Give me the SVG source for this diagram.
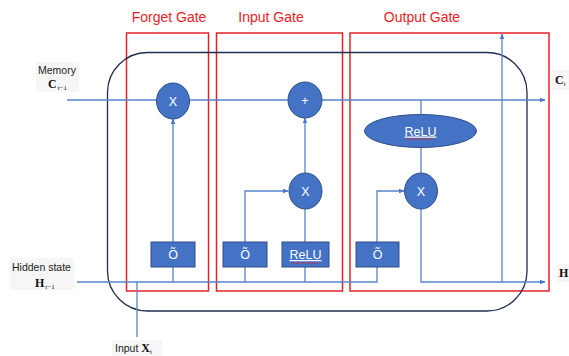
<svg xmlns="http://www.w3.org/2000/svg" width="569" height="356" viewBox="0 0 569 356">
<defs>
<marker id="arr" viewBox="0 0 10 10" refX="9" refY="5" markerWidth="6" markerHeight="6" orient="auto" markerUnits="userSpaceOnUse">
<path d="M0,1 L10,5 L0,9 z" fill="#4a78c6"/>
</marker>
<style>
.gate{fill:none;stroke:#e8202a;stroke-width:1.5}
.title{font-family:"Liberation Sans",Arial,sans-serif;font-size:14px;fill:#ee1c24;text-anchor:middle}
.cell{fill:none;stroke:#1f2d50;stroke-width:1.3}
.conn{fill:none;stroke:#5585c9;stroke-width:1.3}
.node{fill:#4472c4;stroke:#2f4f8a;stroke-width:1}
.nt{font-family:"Liberation Sans",Arial,sans-serif;font-size:12.5px;fill:#ffffff;text-anchor:middle}
.lab{font-family:"Liberation Sans",Arial,sans-serif;font-size:10.5px;fill:#222}
.math{font-family:"Liberation Serif","Times New Roman",serif;font-weight:bold;font-size:12px;fill:#111}
.sub{font-size:7px;font-weight:normal}
.bg{fill:#f6f6f6}
.squig{fill:none;stroke:#e02020;stroke-width:0.7}
</style>
</defs>

<g id="gate-boxes">
<rect class="gate" x="126.5" y="33" width="82" height="258"/>
<rect class="gate" x="216.5" y="33" width="126" height="258"/>
<rect class="gate" x="350" y="33" width="199" height="258"/>
<text class="title" x="169" y="22">Forget Gate</text>
<text class="title" x="271" y="22">Input Gate</text>
<text class="title" x="422" y="22">Output Gate</text>
</g>

<g id="cell">
<rect class="cell" x="107.5" y="52.5" width="419.5" height="258.5" rx="40" ry="40"/>
</g>

<g id="labels">
<rect class="bg" x="36" y="62" width="43" height="30"/>
<text class="lab" x="38" y="74">Memory</text>
<text class="math" x="48" y="88">C<tspan class="sub" dx="1" dy="2">t−1</tspan></text>
<rect class="bg" x="10" y="258" width="64" height="32"/>
<text class="lab" x="12" y="271">Hidden state</text>
<text class="math" x="35" y="287">H<tspan class="sub" dx="1" dy="2">t−1</tspan></text>
<rect class="bg" x="112" y="340" width="50" height="16"/>
<text class="lab" x="115" y="352">Input <tspan class="math">X<tspan class="sub" dy="2">t</tspan></tspan></text>
<rect class="bg" x="551" y="70" width="18" height="20"/>
<text class="math" x="555" y="84">C<tspan class="sub" dy="2">t</tspan></text>
<rect class="bg" x="557" y="264" width="12" height="18"/>
<text class="math" x="559" y="277">H</text>
</g>

<g id="connectors">
<path class="conn" d="M67,100 H545" marker-end="url(#arr)"/>
<path class="conn" d="M77,282 H377 V267"/>
<path class="conn" d="M137,337 V282"/>
<path class="conn" d="M173,282 V267"/>
<path class="conn" d="M173,242 V119" marker-end="url(#arr)"/>
<path class="conn" d="M245,282 V267"/>
<path class="conn" d="M245,242 V191 H288" marker-end="url(#arr)"/>
<path class="conn" d="M305,282 V267"/>
<path class="conn" d="M305,242 V209"/>
<path class="conn" d="M305,173 V118" marker-end="url(#arr)"/>
<path class="conn" d="M377,242 V191 H404" marker-end="url(#arr)"/>
<path class="conn" d="M421,100 V115"/>
<path class="conn" d="M421,148 V173"/>
<path class="conn" d="M421,209 V282 H545" marker-end="url(#arr)"/>
<path class="conn" d="M502,282 V34" marker-end="url(#arr)"/>
</g>

<g id="forget-mult">
<ellipse class="node" cx="173" cy="101" rx="16.5" ry="18"/>
<text class="nt" x="173" y="105.5">X</text>
</g>
<g id="add">
<ellipse class="node" cx="305" cy="100" rx="17" ry="18"/>
<text class="nt" x="305" y="104.5">+</text>
</g>
<g id="input-mult">
<ellipse class="node" cx="305.5" cy="191" rx="16.5" ry="18"/>
<text class="nt" x="305.5" y="195.5">X</text>
</g>
<g id="output-mult">
<ellipse class="node" cx="421" cy="191" rx="16.5" ry="18"/>
<text class="nt" x="421" y="195.5">X</text>
</g>
<g id="relu-out">
<ellipse class="node" cx="420.5" cy="131" rx="56" ry="16.5"/>
<text class="nt" x="420.5" y="135.5" text-decoration="underline">ReLU</text>
<path class="squig" d="M406,139 q1.5,-1.5 3,0 t3,0 t3,0 t3,0 t3,0 t3,0 t3,0 t3,0 t3,0"/>
</g>
<g id="forget-sigma">
<rect class="node" x="151" y="242" width="44" height="25"/>
<text class="nt" x="173" y="259" font-size="13">Õ</text>
</g>
<g id="input-sigma">
<rect class="node" x="223" y="242" width="44" height="25"/>
<text class="nt" x="245" y="259" font-size="13">Õ</text>
</g>
<g id="input-relu">
<rect class="node" x="282" y="242" width="47" height="25"/>
<text class="nt" x="305.5" y="259" text-decoration="underline">ReLU</text>
<path class="squig" d="M291,263 q1.5,-1.5 3,0 t3,0 t3,0 t3,0 t3,0 t3,0 t3,0 t3,0 t3,0"/>
</g>
<g id="output-sigma">
<rect class="node" x="356" y="242" width="43" height="25"/>
<text class="nt" x="377.5" y="259" font-size="13">Õ</text>
</g>
</svg>
